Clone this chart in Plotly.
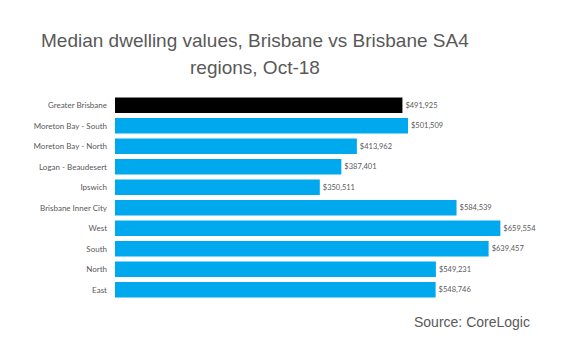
import plotly.graph_objects as go

regions = ["Greater Brisbane", "Moreton Bay - South", "Moreton Bay - North", "Logan - Beaudesert",
           "Ipswich", "Brisbane Inner City", "West", "South", "North", "East"]
values = [491925, 501509, 413962, 387401, 350511, 584539, 659554, 639457, 549231, 548746]
colors = ["#000000"] + ["#00A8EE"] * 9
labels = ["$" + f"{v:,}" for v in values]
title_lines = ["Median dwelling values, Brisbane vs Brisbane SA4", "regions, Oct-18"]

fig = go.Figure(go.Bar(
    y=regions, x=values, orientation="h",
    marker=dict(color=colors, line=dict(width=0)),
    text=labels, textposition="outside", cliponaxis=False,
    textfont=dict(family="Lato", size=7.5, color="#595959"),
))
title_font = dict(family="Liberation Sans", size=19, color="#595959")
fig.update_layout(
    width=580, height=352,
    margin=dict(l=115, r=56, t=95, b=52),
    paper_bgcolor="white", plot_bgcolor="white",
    bargap=0.25, showlegend=False,
    xaxis=dict(range=[0, 700000], visible=False),
    yaxis=dict(autorange="reversed", showline=False, showgrid=False, ticks="",
               ticklabelstandoff=7,
               tickfont=dict(family="Lato", size=8, color="#595959")),
    annotations=[
        dict(text=title_lines[0], xref="paper", yref="paper", x=0.342, y=1.268,
             xanchor="center", yanchor="middle", showarrow=False, font=title_font),
        dict(text=title_lines[1], xref="paper", yref="paper", x=0.342, y=1.132,
             xanchor="center", yanchor="middle", showarrow=False, font=title_font),
        dict(text="Source: CoreLogic", xref="paper", yref="paper",
             x=1.0, xanchor="right", xshift=8, y=-0.107, yanchor="middle",
             showarrow=False,
             font=dict(family="Liberation Sans", size=14, color="#595959")),
    ],
)
fig.write_html("out.html")
